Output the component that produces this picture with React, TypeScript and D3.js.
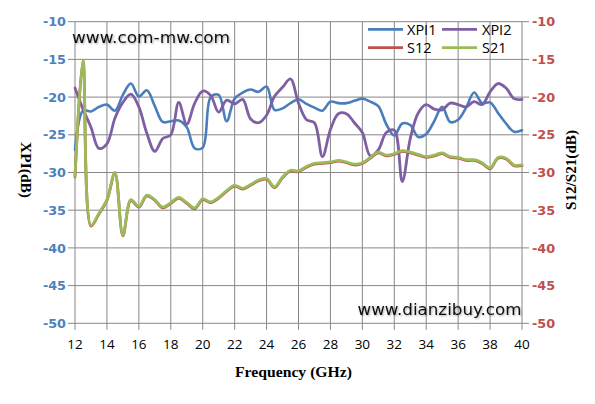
import React from "react";
import * as d3 from "d3";

const freq = [12, 12.5, 13, 13.5, 14, 14.5, 15, 15.5, 16, 16.5, 17, 17.5, 18, 18.5, 19, 19.5, 20, 20.5, 21, 21.5, 22, 22.5, 23, 23.5, 24, 24.5, 25, 25.5, 26, 26.5, 27, 27.5, 28, 28.5, 29, 29.5, 30, 30.5, 31, 31.5, 32, 32.5, 33, 33.5, 34, 34.5, 35, 35.5, 36, 36.5, 37, 37.5, 38, 38.5, 39, 39.5, 40];

const xpi1 = [-27.0, -21.8, -21.9, -21.3, -21.0, -21.8, -19.7, -18.2, -19.9, -19.1, -21.2, -23.3, -23.2, -23.1, -24.0, -26.8, -26.7, -20.0, -19.7, -23.2, -20.2, -19.4, -19.0, -19.3, -18.6, -21.7, -21.5, -20.8, -20.3, -20.9, -21.4, -21.8, -20.6, -20.8, -20.8, -20.5, -20.2, -20.6, -21.2, -23.6, -25.1, -23.5, -23.7, -25.3, -24.9, -23.2, -21.3, -23.3, -23.0, -21.4, -19.4, -20.8, -20.7, -22.1, -23.5, -24.6, -24.4];

const xpi2 = [-18.8, -21.6, -24.0, -26.8, -26.2, -22.8, -20.7, -19.6, -21.3, -24.8, -27.2, -25.5, -25.0, -20.7, -23.6, -20.8, -19.2, -19.8, -22.0, -20.4, -20.9, -20.3, -22.9, -23.4, -22.4, -19.9, -18.7, -17.6, -20.8, -23.0, -23.4, -27.9, -24.3, -22.2, -22.2, -23.4, -24.7, -27.8, -27.0, -24.7, -24.4, -31.2, -25.5, -22.1, -21.0, -21.6, -21.7, -20.8, -21.0, -21.3, -20.6, -21.0, -19.3, -18.2, -18.8, -20.2, -20.3];

const s12 = [-30.6, -15.2, -37.1, -35.5, -33.7, -30.1, -38.4, -33.7, -34.6, -33.1, -33.7, -34.7, -34.1, -33.4, -34.1, -34.8, -33.6, -34.0, -33.4, -32.5, -31.8, -32.2, -31.7, -31.1, -30.9, -32.0, -30.7, -29.8, -29.9, -29.3, -28.9, -28.8, -28.7, -28.5, -28.7, -29.0, -28.8, -28.1, -27.4, -27.8, -27.6, -27.2, -27.4, -27.7, -28.0, -27.8, -27.5, -28.0, -28.1, -28.4, -28.4, -28.8, -29.5, -28.1, -28.2, -29.1, -29.1];

const s21 = [-30.5, -15.1, -37.0, -35.4, -33.6, -30.0, -38.3, -33.6, -34.5, -33.0, -33.6, -34.6, -34.0, -33.3, -34.0, -34.7, -33.5, -33.9, -33.3, -32.4, -31.7, -32.1, -31.6, -31.0, -30.8, -31.9, -30.6, -29.7, -29.8, -29.2, -28.8, -28.7, -28.6, -28.4, -28.6, -28.9, -28.7, -28.0, -27.3, -27.7, -27.5, -27.1, -27.3, -27.6, -27.9, -27.7, -27.4, -27.9, -28.0, -28.3, -28.3, -28.7, -29.4, -28.0, -28.1, -29.0, -29.0];

const xTicks = [12, 14, 16, 18, 20, 22, 24, 26, 28, 30, 32, 34, 36, 38, 40];
const yTicks = [-10, -15, -20, -25, -30, -35, -40, -45, -50];

const seriesNames = ["XPI1", "XPI2", "S12", "S21"];
const seriesColors = ["#4A7EBB", "#7F5FA3", "#C0504D", "#9BBB59"];

const W = 595;
const H = 404;
const L = 75;
const R = 522;
const T = 21.7;
const B = 323.3;

export default function App() {
  const x = d3.scaleLinear().domain([12, 40]).range([L, R]);
  const yL = d3.scaleLinear().domain([-50, -10]).range([B, T]);
  const yR = d3.scaleLinear().domain([-50, -10]).range([B, T]);
  const mk = (ys: d3.ScaleLinear<number, number>) =>
    d3
      .line<[number, number]>()
      .x((d) => x(d[0]))
      .y((d) => ys(d[1]))
      .curve(d3.curveCatmullRom.alpha(0.5));
  const pts = (vals: number[]) => freq.map((f, i) => [f, vals[i]] as [number, number]);
  const grid = "#878787";
  const allSeries = [
    { vals: xpi1, scale: yL, w: 2.6 },
    { vals: xpi2, scale: yL, w: 2.8 },
    { vals: s12, scale: yR, w: 2.8 },
    { vals: s21, scale: yR, w: 2.8 },
  ];
  const legend = [
    { x0: 368, x1: 403, tx: 407, y: 29.3 },
    { x0: 442, x1: 477, tx: 482, y: 29.3 },
    { x0: 368, x1: 403, tx: 407, y: 47.7 },
    { x0: 442, x1: 477, tx: 482, y: 47.7 },
  ];
  return (
    <svg
      width={W}
      height={H}
      viewBox={`0 0 ${W} ${H}`}
      style={{ position: "absolute", left: 0, top: 0, background: "#fff" }}
    >
      <rect x={0} y={0} width={W} height={H} fill="#fff" />
      <defs>
        <filter id="sh" x="-10%" y="-30%" width="120%" height="160%">
          <feGaussianBlur in="SourceAlpha" stdDeviation="0.8" />
          <feOffset dx="1" dy="1" result="b" />
          <feComponentTransfer>
            <feFuncA type="linear" slope="0.35" />
          </feComponentTransfer>
          <feMerge>
            <feMergeNode />
            <feMergeNode in="SourceGraphic" />
          </feMerge>
        </filter>
      </defs>
      {/* grid */}
      {xTicks.map((t) => (
        <g key={"vx" + t}>
          <line x1={x(t)} x2={x(t)} y1={T} y2={B} stroke={grid} strokeWidth={1} />
          <line x1={x(t)} x2={x(t)} y1={B} y2={B + 6.5} stroke={grid} strokeWidth={1} />
          <text
            x={x(t)}
            y={348.5}
            textAnchor="middle"
            fontFamily="'Open Sans', sans-serif"
            fontSize={13.5}
            fill="#000"
          >
            {t}
          </text>
        </g>
      ))}
      {yTicks.map((t) => (
        <g key={"hy" + t}>
          <line x1={L} x2={R} y1={yL(t)} y2={yL(t)} stroke={grid} strokeWidth={1} />
          <line x1={L - 7} x2={L} y1={yL(t)} y2={yL(t)} stroke={grid} strokeWidth={1} />
          <line x1={R} x2={R + 7} y1={yR(t)} y2={yR(t)} stroke={grid} strokeWidth={1} />
          <text
            x={66}
            y={yL(t) + 4.6}
            textAnchor="end"
            fontFamily="'DejaVu Sans', sans-serif"
            fontWeight="bold"
            fontSize={12.8}
            fill="#4F81BD"
          >
            {t}
          </text>
          <text
            x={532}
            y={yR(t) + 4.6}
            textAnchor="start"
            fontFamily="'DejaVu Sans', sans-serif"
            fontWeight="bold"
            fontSize={12.8}
            fill="#C0504D"
          >
            {t}
          </text>
        </g>
      ))}
      {/* series */}
      {allSeries.map((s, i) => (
        <path
          key={"s" + i}
          d={mk(s.scale)(pts(s.vals)) || ""}
          fill="none"
          stroke={seriesColors[i]}
          strokeWidth={s.w}
          strokeLinejoin="round"
          strokeLinecap="round"
        />
      ))}
      {/* legend */}
      {legend.map((l, i) => (
        <g key={"lg" + i}>
          <line x1={l.x0} x2={l.x1} y1={l.y} y2={l.y} stroke={seriesColors[i]} strokeWidth={2.8} />
          <text
            x={l.tx}
            y={l.y + 5.3}
            fontFamily="'Open Sans', sans-serif"
            fontSize={14.5}
            fill="#000"
          >
            {seriesNames[i]}
          </text>
        </g>
      ))}
      {/* watermarks */}
      <text
        x={72}
        y={43.3}
        fontFamily="'DejaVu Sans', sans-serif"
        fontSize={16.5}
        textLength={158}
        lengthAdjust="spacingAndGlyphs"
        fill="#111"
        filter="url(#sh)"
      >
        www.com-mw.com
      </text>
      <text
        x={357.5}
        y={315}
        fontFamily="'DejaVu Sans', sans-serif"
        fontSize={16.5}
        textLength={164}
        lengthAdjust="spacingAndGlyphs"
        fill="#111"
        filter="url(#sh)"
      >
        www.dianzibuy.com
      </text>
      {/* axis titles */}
      <text
        x={293.5}
        y={376.5}
        textAnchor="middle"
        fontFamily="'Liberation Serif', serif"
        fontWeight="bold"
        fontSize={14}
        textLength={117}
        lengthAdjust="spacingAndGlyphs"
        fill="#000"
      >
        Frequency (GHz)
      </text>
      <text
        transform="translate(21,170) rotate(90)"
        textAnchor="middle"
        fontFamily="'Liberation Serif', serif"
        fontWeight="bold"
        fontSize={14}
        textLength={56}
        lengthAdjust="spacingAndGlyphs"
        fill="#000"
      >
        XPI(dB)
      </text>
      <text
        transform="translate(576,170) rotate(-90)"
        textAnchor="middle"
        fontFamily="'Liberation Serif', serif"
        fontWeight="bold"
        fontSize={14}
        textLength={80}
        lengthAdjust="spacingAndGlyphs"
        fill="#000"
      >
        S12/S21(dB)
      </text>
    </svg>
  );
}
